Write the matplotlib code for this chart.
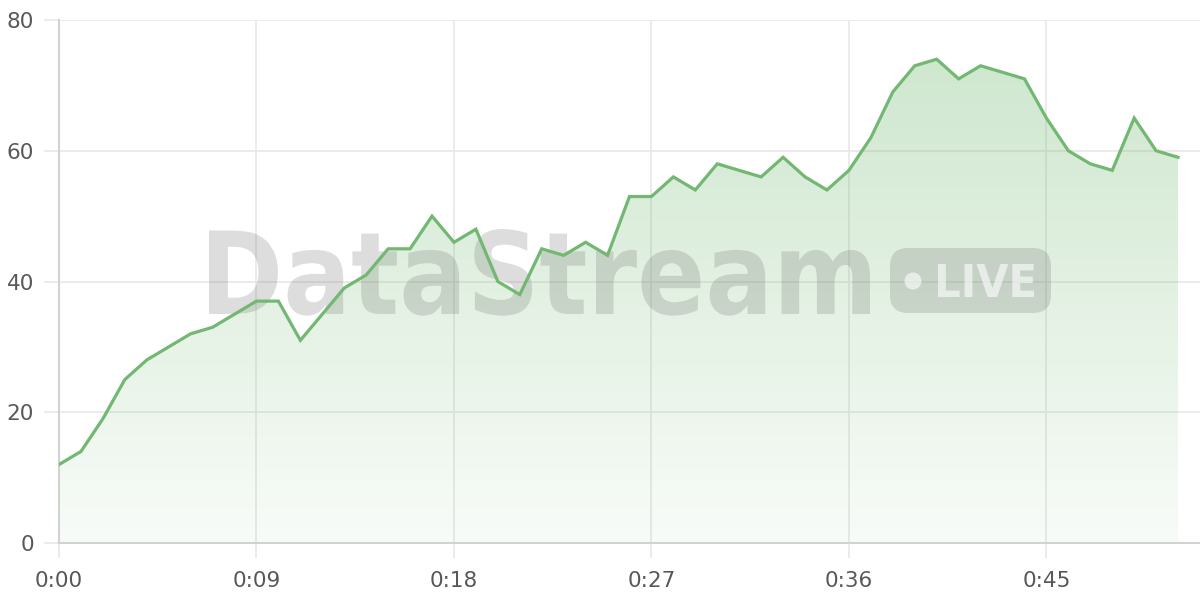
import matplotlib.pyplot as plt
import numpy as np
from matplotlib.patches import FancyBboxPatch, PathPatch, Ellipse
from matplotlib.colors import LinearSegmentedColormap
from matplotlib.textpath import TextPath
from matplotlib.font_manager import FontProperties
from matplotlib.transforms import Affine2D

# one sample per second
seconds = list(range(52))
values = [12, 14, 19, 25, 28, 30, 32, 33, 35, 37,
          37, 31, 35, 39, 41, 45, 45, 50, 46, 48,
          40, 38, 45, 44, 46, 44, 53, 53, 56, 54,
          58, 57, 56, 59, 56, 54, 57, 62, 69, 73,
          74, 71, 73, 72, 71, 65, 60, 58, 57, 65,
          60, 59]
x_ticks = [0, 9, 18, 27, 36, 45]
x_tick_labels = ["0:00", "0:09", "0:18", "0:27", "0:36", "0:45"]
y_ticks = [0, 20, 40, 60, 80]

line_color = "#72b872"
grid_color = "#e8e8e8"
axis_color = "#d2d2d2"
text_color = "#585858"
mark_color = "#7a7a7a"

W, H = 1200, 600

plt.rcParams["font.family"] = ["DejaVu Sans"]

fig = plt.figure(figsize=(12, 6), dpi=100)
ax = fig.add_axes([59 / W, 57 / H, 1 - 59 / W, (543 - 20) / H])

# pixel (top-left origin) -> figure
px = Affine2D().scale(1 / W, -1 / H).translate(0, 1) + fig.transFigure


def stretched_text(s, x0, x1, ytop, ybase, prop, **kw):
    """Text as a path squeezed into a pixel box (baseline at ybase)."""
    tp = TextPath((0, 0), s, size=100, prop=prop)
    bb = tp.get_extents()
    sx = (x1 - x0) / bb.width
    sy = (ybase - ytop) / bb.y1
    tr = Affine2D().translate(-bb.x0, 0).scale(sx, -sy).translate(x0, ybase) + px
    patch = PathPatch(tp, transform=tr, lw=0, clip_on=False, **kw)
    ax.add_patch(patch)


# gradient fill under the line, clipped to the area polygon
poly = ax.fill_between(seconds, values, 0, color="none", lw=0)
cmap = LinearSegmentedColormap.from_list(
    "g", [(0.447, 0.722, 0.447, 0.05), (0.447, 0.722, 0.447, 0.34)])
grad = np.linspace(0, 1, 256).reshape(-1, 1)
img = ax.imshow(grad, cmap=cmap, origin="lower", aspect="auto",
                extent=[0, seconds[-1], 0, max(values)], zorder=1)
img.set_clip_path(poly.get_paths()[0], transform=ax.transData)

ax.plot(seconds, values, color=line_color, lw=2.3, zorder=4,
        solid_joinstyle="miter")

# watermark
heavy = FontProperties(family="DejaVu Sans", weight="bold")
stretched_text("DataStream", 209, 870, 229, 314, heavy,
               facecolor=mark_color, alpha=0.25, zorder=3)
pill = FancyBboxPatch((890, H - 313), 161, 65,
                      boxstyle="round,pad=0,rounding_size=18",
                      transform=Affine2D().scale(1 / W, 1 / H) + fig.transFigure,
                      facecolor=mark_color, alpha=0.25, lw=0, zorder=3,
                      clip_on=False)
ax.add_patch(pill)
ax.add_patch(Ellipse((913 / W, 1 - 281 / H), 17 / W, 17 / H,
                     transform=fig.transFigure, facecolor="white",
                     alpha=0.6, lw=0, zorder=3, clip_on=False))
stretched_text("LIVE", 938, 1034, 264, 297, heavy,
               facecolor="white", alpha=0.6, zorder=3)

ax.set_xlim(0, 52)
ax.set_ylim(0, 80)
ax.set_xticks(x_ticks)
ax.set_xticklabels(x_tick_labels)
ax.set_yticks(y_ticks)
ax.grid(True, color=grid_color, lw=1.2, zorder=0)
ax.set_axisbelow(True)

for side in ["top", "right"]:
    ax.spines[side].set_visible(False)
for side in ["left", "bottom"]:
    ax.spines[side].set_color(axis_color)
    ax.spines[side].set_linewidth(1.5)

ax.tick_params(axis="both", length=11, width=1.2, color=grid_color,
               labelcolor=text_color, labelsize=15.5)
ax.tick_params(axis="y", pad=7)
ax.tick_params(axis="x", pad=9)

fig.savefig("out.png", dpi=100)
